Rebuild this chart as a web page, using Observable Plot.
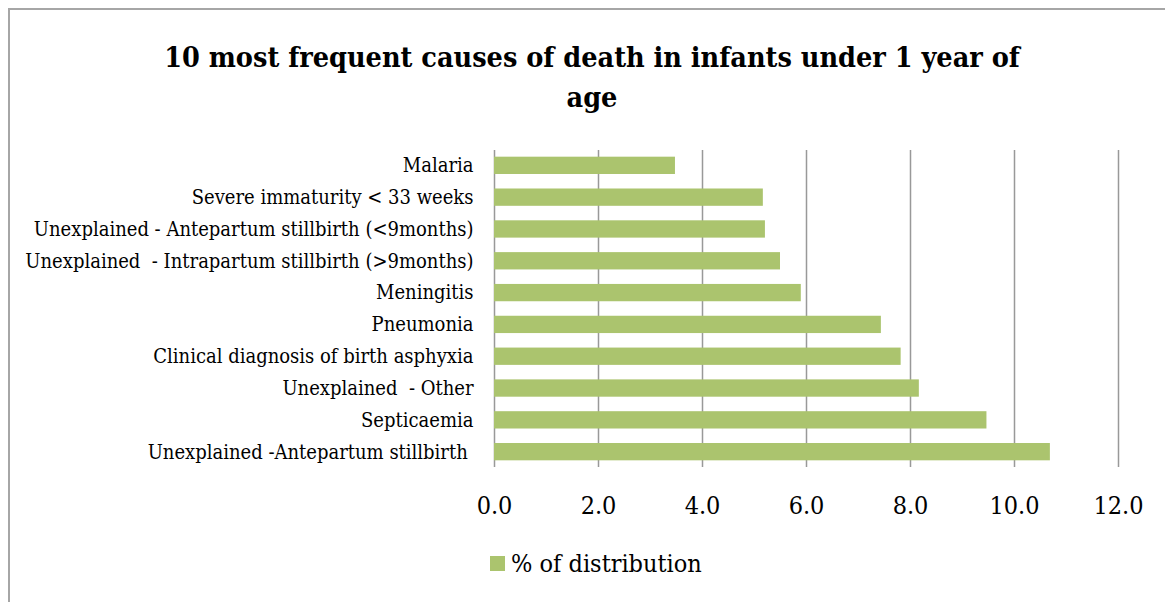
<!DOCTYPE html>
<html>
<head>
<meta charset="utf-8">
<script src="https://cdn.jsdelivr.net/npm/d3@7"></script>
<script src="https://cdn.jsdelivr.net/npm/@observablehq/plot@0.6"></script>
<style>
  html, body { margin: 0; padding: 0; background: #fff; }
  #wrap { position: relative; width: 1165px; height: 602px; overflow: hidden; font-family: "DejaVu Serif Condensed", "DejaVu Serif", serif; font-stretch: condensed; }
  #frame { position: absolute; left: 8px; top: 8px; width: 1170px; height: 610px; border: 2px solid #a6a6a6; box-sizing: border-box; }
  #title { position: absolute; left: 148px; width: 888px; top: 37px; text-align: center; font-weight: bold; font-size: 28.5px; line-height: 40px; color: #000; }
  #plot { position: absolute; left: 0; top: 0; }
  #legend { position: absolute; left: 490px; top: 549px; font-size: 25px; line-height: 29px; color: #000; display: flex; align-items: center; }
  #legend .sw { width: 15px; height: 15px; background: #abc46e; margin-right: 6px; }
</style>
</head>
<body>
<div id="wrap">
  <div id="frame"></div>
  <div id="title">10 most frequent causes of death in infants under 1 year of age</div>
  <div id="plot"></div>
  <div id="legend"><div class="sw"></div><span id="legendLabel"></span></div>
</div>
<script>
const causes = [
  "Malaria",
  "Severe immaturity < 33 weeks",
  "Unexplained - Antepartum stillbirth (<9months)",
  "Unexplained\u00a0 - Intrapartum stillbirth (>9months)",
  "Meningitis",
  "Pneumonia",
  "Clinical diagnosis of birth asphyxia",
  "Unexplained\u00a0 - Other",
  "Septicaemia",
  "Unexplained -Antepartum stillbirth\u00a0"
];
const values = [3.48, 5.17, 5.21, 5.5, 5.9, 7.44, 7.82, 8.17, 9.47, 10.69];
const xTicks = [0, 2, 4, 6, 8, 10, 12];
const seriesName = "% of distribution";

document.getElementById("legendLabel").textContent = seriesName;

const data = causes.map((c, i) => ({cause: c, value: values[i]}));

const chart = Plot.plot({
  width: 1165,
  height: 530,
  marginLeft: 494,
  marginRight: 47,
  marginTop: 150,
  marginBottom: 63,
  style: {fontFamily: "'DejaVu Serif Condensed', 'DejaVu Serif', serif", fontStretch: "condensed", fontSize: "20px", color: "#000", background: "transparent"},
  x: {domain: [0, 12], ticks: xTicks, label: null},
  y: {domain: causes, paddingInner: 0.456, paddingOuter: 0.21, round: false, label: null},
  marks: [
    Plot.ruleX(xTicks, {stroke: "#999", strokeWidth: 1.5, strokeOpacity: 1}),
    Plot.barX(data, {x: "value", y: "cause", fill: "#abc46e"}),
    Plot.axisX({ticks: xTicks, tickSize: 0, tickPadding: 29, tickFormat: d => d.toFixed(1), fontSize: 25, label: null}),
    Plot.axisY({tickSize: 0, tickPadding: 21, fontSize: 20, label: null})
  ]
});
document.getElementById("plot").appendChild(chart);
</script>
</body>
</html>
